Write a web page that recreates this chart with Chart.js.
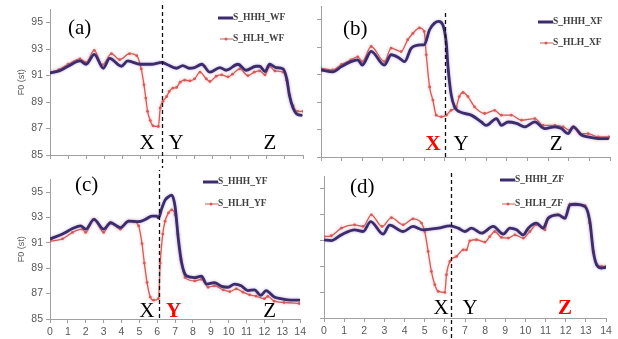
<!DOCTYPE html>
<html><head><meta charset="utf-8">
<script src="https://cdn.jsdelivr.net/npm/chart.js@4/dist/chart.umd.min.js"></script>
<style>
html,body{margin:0;padding:0;background:#fff;width:618px;height:339px;overflow:hidden;position:relative}
canvas{position:absolute}
</style></head><body>
<canvas id="ca" style="left:0;top:0" width="309" height="170"></canvas>
<canvas id="cb" style="left:309px;top:0" width="309" height="170"></canvas>
<canvas id="cc" style="left:0;top:170px" width="309" height="169"></canvas>
<canvas id="cd" style="left:309px;top:170px" width="309" height="169"></canvas>
<script>
const yTicks = [85, 87, 89, 91, 93, 95];
const xTicks = [0,1,2,3,4,5,6,7,8,9,10,11,12,13,14];

const aHHH_t = [0,0.5,1.0,1.66,2.0,2.45,2.95,3.3,3.95,4.3,5.0,5.6,6.2,6.45,7.0,7.35,7.7,8.0,8.4,8.85,9.4,9.75,10.4,10.85,11.4,11.6,11.9,12.15,12.5,12.9,13.1,13.25,13.45,13.7,13.9];
const aHHH_v = [91.2,91.35,91.7,92.1,91.85,92.6,91.55,92.3,91.7,92.1,91.85,91.85,92.0,91.85,91.55,91.75,91.55,91.6,91.85,91.25,91.6,91.4,91.85,91.4,91.7,91.7,91.3,91.85,91.6,91.5,90.75,89.5,88.55,88.05,88.0];
const aHLH_t = [0,0.5,1.0,1.66,2.0,2.45,2.9,3.4,3.85,4.4,4.8,5.05,5.2,5.3,5.4,5.55,5.7,6.0,6.1,6.25,6.45,6.6,6.8,7.0,7.2,7.45,7.75,8.0,8.3,8.65,8.85,9.2,9.5,9.85,10.1,10.5,10.95,11.3,11.6,11.9,12.15,12.45,12.9,13.1,13.25,13.45,13.7,14.0];
const aHLH_v = [91.25,91.45,91.85,92.25,92.0,92.9,91.8,92.65,92.2,92.65,92.5,91.5,90.3,89.3,88.3,87.6,87.2,87.15,88.55,89.05,89.4,89.8,90.05,90.1,90.5,90.65,90.6,90.75,91.25,90.75,90.55,90.95,91.05,90.9,91.1,91.5,91.0,91.25,91.35,91.05,91.7,91.35,91.25,90.65,89.55,88.7,88.3,88.3];

const bHHH_t = [0,0.57,1.0,1.45,1.78,2.0,2.43,3.07,3.4,3.8,4.05,4.37,4.85,5.0,5.26,5.5,5.7,5.9,6.07,6.15,6.3,6.47,6.7,7.28,7.77,8.0,8.5,8.74,9.06,9.47,9.87,10.36,10.84,11.33,11.65,11.97,12.22,12.62,12.94,13.43,13.9];
const bHHH_v = [91.34,91.2,91.6,91.95,92.07,91.7,92.7,91.7,92.45,92.2,91.95,92.93,93.17,93.17,94.27,94.75,94.88,94.63,93.3,91.6,89.6,88.65,88.3,88.05,87.55,87.3,87.8,87.3,87.55,87.45,87.2,87.56,87.07,87.2,87.07,86.7,87.2,86.6,86.46,86.34,86.34];
const bHLH_t = [0,0.57,1.0,1.45,1.78,2.0,2.43,3.07,3.4,3.88,4.2,4.45,4.77,5.0,5.1,5.26,5.42,5.58,5.83,6.07,6.3,6.55,6.7,6.88,7.12,7.44,7.93,8.41,8.74,9.22,9.71,10.36,10.76,11.33,11.73,12.06,12.22,12.54,12.94,13.43,13.95];
const bHLH_v = [91.46,91.34,91.75,92.07,92.3,91.95,93.05,91.95,92.93,92.68,93.54,94.0,94.4,94.15,92.44,90.1,89.15,88.05,87.93,88.05,88.4,88.65,89.4,89.7,89.4,88.65,88.17,88.4,88.05,88.05,87.68,87.8,87.3,87.3,87.2,86.95,87.2,86.7,86.7,86.46,86.46];

const cHHH_t = [0,0.7,1.26,1.72,2.0,2.46,3.0,3.39,3.94,4.4,4.96,5.33,5.7,5.98,6.07,6.26,6.44,6.63,6.81,7.0,7.19,7.37,7.65,8.1,8.48,8.76,9.2,9.6,9.96,10.33,10.7,11.07,11.44,11.8,12.09,12.55,12.93,13.48,13.95];
const cHHH_v = [91.31,91.69,92.12,92.33,92.07,92.84,92.07,92.58,92.2,92.7,92.66,92.84,93.1,93.1,92.96,93.73,94.36,94.62,94.75,93.86,91.2,89.4,88.38,88.26,88.38,87.75,87.87,87.57,87.5,87.75,87.62,87.24,87.3,86.86,87.24,86.73,86.6,86.48,86.48];
const cHLH_t = [0,0.7,1.26,1.81,2.0,2.46,3.0,3.39,3.94,4.4,4.69,4.96,5.15,5.28,5.43,5.61,5.8,6.07,6.17,6.31,6.44,6.63,6.81,7.0,7.15,7.33,7.56,8.1,8.48,8.85,9.2,9.69,10.06,10.43,10.8,11.17,11.54,12.0,12.19,12.55,13.1,13.95];
const cHLH_v = [91.13,91.31,91.82,92.07,91.82,92.84,91.82,92.58,92.07,92.7,92.66,92.33,90.93,89.4,87.88,86.73,86.48,86.6,89.4,91.69,92.7,93.35,93.6,93.22,91.69,89.66,88.26,88.0,88.13,87.5,87.62,87.3,87.16,87.37,87.11,86.9,86.8,86.6,86.78,86.4,86.3,86.22];

const dHHH_t = [0,0.36,0.86,1.52,1.94,2.32,2.93,3.26,3.93,4.42,4.92,5.67,6.25,6.66,6.99,7.32,7.82,8.4,8.9,9.23,9.56,9.89,10.14,10.55,10.88,11.13,11.63,11.96,12.21,12.46,12.96,13.2,13.37,13.54,13.78,14.0];
const dHHH_v = [91.06,91.0,91.44,91.83,91.7,92.47,91.5,92.2,91.7,92.09,91.83,91.96,92.14,91.96,91.7,91.96,91.57,92.09,91.5,91.96,91.83,91.44,91.96,92.35,91.96,92.73,92.99,92.73,93.76,93.81,93.63,92.47,90.15,89.12,88.87,88.92];
const dHLH_t = [0,0.36,0.86,1.52,1.94,2.35,2.88,3.35,3.93,4.42,4.84,5.0,5.17,5.33,5.5,5.67,6.0,6.08,6.25,6.58,6.91,7.07,7.24,7.57,7.99,8.23,8.48,8.81,9.15,9.48,9.89,10.22,10.55,10.97,11.13,11.63,11.96,12.21,12.46,12.96,13.18,13.37,13.54,13.78,14.0];
const dHLH_v = [91.31,91.37,91.96,92.22,92.09,92.99,92.09,92.78,92.22,92.68,92.35,91.7,90.15,88.61,87.58,87.06,86.98,88.35,89.38,89.77,90.28,90.28,90.98,91.06,90.88,91.31,91.7,91.24,91.19,91.44,91.19,91.7,92.22,91.83,92.73,92.99,92.73,93.81,93.76,93.71,92.35,90.15,89.12,89.0,89.0];

const PURPLE = '#3d2c6c';
const RED = '#d65a55';
const AX = '#a0a0a0';
const zip = (t, v) => t.map((x, i) => ({x: x, y: v[i]}));

const panels = [
  {id:'ca', ox:0, oy:0, tag:'(a)', tagPos:[68,34], suf:'WF', hhh:[aHHH_t,aHHH_v], hlh:[aHLH_t,aHLH_v],
   yLabels:true, xLabels:false, yW:50, xH:15, pad:{top:5,right:6,left:0,bottom:0},
   dash:6.2, dashY:[5,168], letters:[['X',5.37,false],['Y',6.97,false],['Z',12.17,false]], letterV:85.45,
   leg:[218,18,39]},
  {id:'cb', ox:309, oy:0, tag:'(b)', tagPos:[343,35], suf:'XF', hhh:[bHHH_t,bHHH_v], hlh:[bHLH_t,bHLH_v],
   yLabels:false, xLabels:false, yW:12, xH:13, pad:{top:6,right:8,left:0,bottom:0},
   dash:6.0, dashY:[13,158], letters:[['X',5.43,true],['Y',6.78,false],['Z',11.39,false]], letterV:85.5,
   leg:[538,22,43]},
  {id:'cc', ox:0, oy:170, tag:'(c)', tagPos:[75,191], suf:'YF', hhh:[cHHH_t,cHHH_v], hlh:[cHLH_t,cHLH_v],
   yLabels:true, xLabels:true, yW:50, xH:20, pad:{top:5,right:6,left:0,bottom:0},
   dash:6.09, dashY:[167,319], letters:[['X',5.42,false],['Y',6.92,true],['Z',12.29,false]], letterV:85.15,
   leg:[203,182,204]},
  {id:'cd', ox:309, oy:170, tag:'(d)', tagPos:[350,193], suf:'ZF', hhh:[dHHH_t,dHHH_v], hlh:[dHLH_t,dHLH_v],
   yLabels:false, xLabels:true, yW:15, xH:21, pad:{top:6,right:12,left:0,bottom:0},
   dash:6.3, dashY:[173,339], letters:[['X',5.81,false],['Y',7.25,false],['Z',11.97,true]], letterV:85.3,
   leg:[500,180,204]}
];

const shadowPlugin = {
  id: 'halo',
  beforeDatasetDraw(chart, args) {
    const ctx = chart.ctx;
    ctx.save();
    ctx.shadowColor = args.index === 0 ? 'rgba(140,120,190,0.6)' : 'rgba(230,140,140,0.55)';
    ctx.shadowBlur = 3;
  },
  afterDatasetDraw(chart) { chart.ctx.restore(); }
};

panels.forEach(p => {
  const deco = {
    id: 'deco',
    afterDraw(chart) {
      const ctx = chart.ctx;
      const xs = chart.scales.x, ys = chart.scales.y;
      ctx.save();
      const dx = Math.round(xs.getPixelForValue(p.dash)) + 0.5;
      ctx.strokeStyle = '#111';
      ctx.lineWidth = 1.3;
      ctx.setLineDash([4, 3]);
      ctx.beginPath();
      ctx.moveTo(dx, p.dashY[0] - p.oy);
      ctx.lineTo(dx, p.dashY[1] - p.oy);
      ctx.stroke();
      ctx.setLineDash([]);
      ctx.textAlign = 'center';
      ctx.textBaseline = 'alphabetic';
      const ly = ys.getPixelForValue(p.letterV);
      p.letters.forEach(([s, t, red]) => {
        ctx.font = (red ? 'bold ' : '') + '21px "Liberation Serif"';
        ctx.fillStyle = red ? '#ff0000' : '#000';
        ctx.fillText(s, xs.getPixelForValue(t), ly);
      });
      ctx.textAlign = 'left';
      ctx.font = '21px "Liberation Serif"';
      ctx.fillStyle = '#000';
      ctx.fillText(p.tag, p.tagPos[0] - p.ox, p.tagPos[1] - p.oy);
      const lx = p.leg[0] - p.ox;
      const y1 = p.leg[1] - p.oy, y2 = p.leg[2] - p.oy;
      ctx.strokeStyle = PURPLE; ctx.lineWidth = 3;
      ctx.beginPath(); ctx.moveTo(lx, y1); ctx.lineTo(lx + 15, y1); ctx.stroke();
      ctx.strokeStyle = RED; ctx.lineWidth = 1;
      ctx.beginPath(); ctx.moveTo(lx + 2, y2); ctx.lineTo(lx + 15, y2); ctx.stroke();
      ctx.fillStyle = RED;
      ctx.beginPath(); ctx.arc(lx + 8, y2, 1.5, 0, Math.PI * 2); ctx.fill();
      ctx.font = 'bold 9.5px "Liberation Serif"';
      ctx.fillStyle = '#404040';
      ctx.textBaseline = 'middle';
      ctx.fillText('S_HHH_' + p.suf, lx + 15, y1);
      ctx.fillText('S_HLH_' + p.suf, lx + 15, y2);
      if (p.yLabels) {
        ctx.save();
        ctx.translate(22, (ys.top + ys.bottom) / 2);
        ctx.rotate(-Math.PI / 2);
        ctx.textAlign = 'center';
        ctx.font = '9px "Liberation Sans"';
        ctx.fillStyle = '#595959';
        ctx.fillText('F0 (st)', 0, 0);
        ctx.restore();
      }
      ctx.restore();
    }
  };

  new Chart(document.getElementById(p.id), {
    type: 'line',
    data: {
      datasets: [
        {label: 'S_HHH_' + p.suf, data: zip(p.hhh[0], p.hhh[1]), borderColor: PURPLE, backgroundColor: PURPLE,
         borderWidth: 2.8, pointRadius: 0, cubicInterpolationMode: 'monotone', borderCapStyle: 'round', borderJoinStyle: 'round'},
        {label: 'S_HLH_' + p.suf, data: zip(p.hlh[0], p.hlh[1]), borderColor: RED, backgroundColor: RED,
         borderWidth: 1.3, pointRadius: 1.4, pointBorderWidth: 0, pointStyle: 'circle', cubicInterpolationMode: 'monotone'}
      ]
    },
    options: {
      responsive: false,
      animation: false,
      devicePixelRatio: 1,
      layout: {padding: p.pad},
      plugins: {legend: {display: false}, tooltip: {enabled: false}},
      scales: {
        x: {
          type: 'linear', min: 0, max: 14,
          afterBuildTicks: s => { s.ticks = xTicks.map(v => ({value: v})); },
          afterFit: s => { s.height = p.xH; },
          grid: {drawOnChartArea: false, drawTicks: true, tickLength: 4, color: AX},
          border: {color: AX, width: 1},
          ticks: {display: p.xLabels, color: '#595959', padding: 3, maxRotation: 0,
                  font: {family: 'Liberation Sans', size: 10.5}}
        },
        y: {
          min: 85, max: 96,
          afterBuildTicks: s => { s.ticks = yTicks.map(v => ({value: v})); },
          afterFit: s => { s.width = p.yW; },
          grid: {drawOnChartArea: false, drawTicks: true, tickLength: 4, color: AX},
          border: {color: AX, width: 1},
          title: {display: false},
          ticks: {display: p.yLabels, color: '#595959', padding: 3,
                  font: {family: 'Liberation Sans', size: 10.5}}
        }
      }
    },
    plugins: [shadowPlugin, deco]
  });
});
</script>
</body></html>
